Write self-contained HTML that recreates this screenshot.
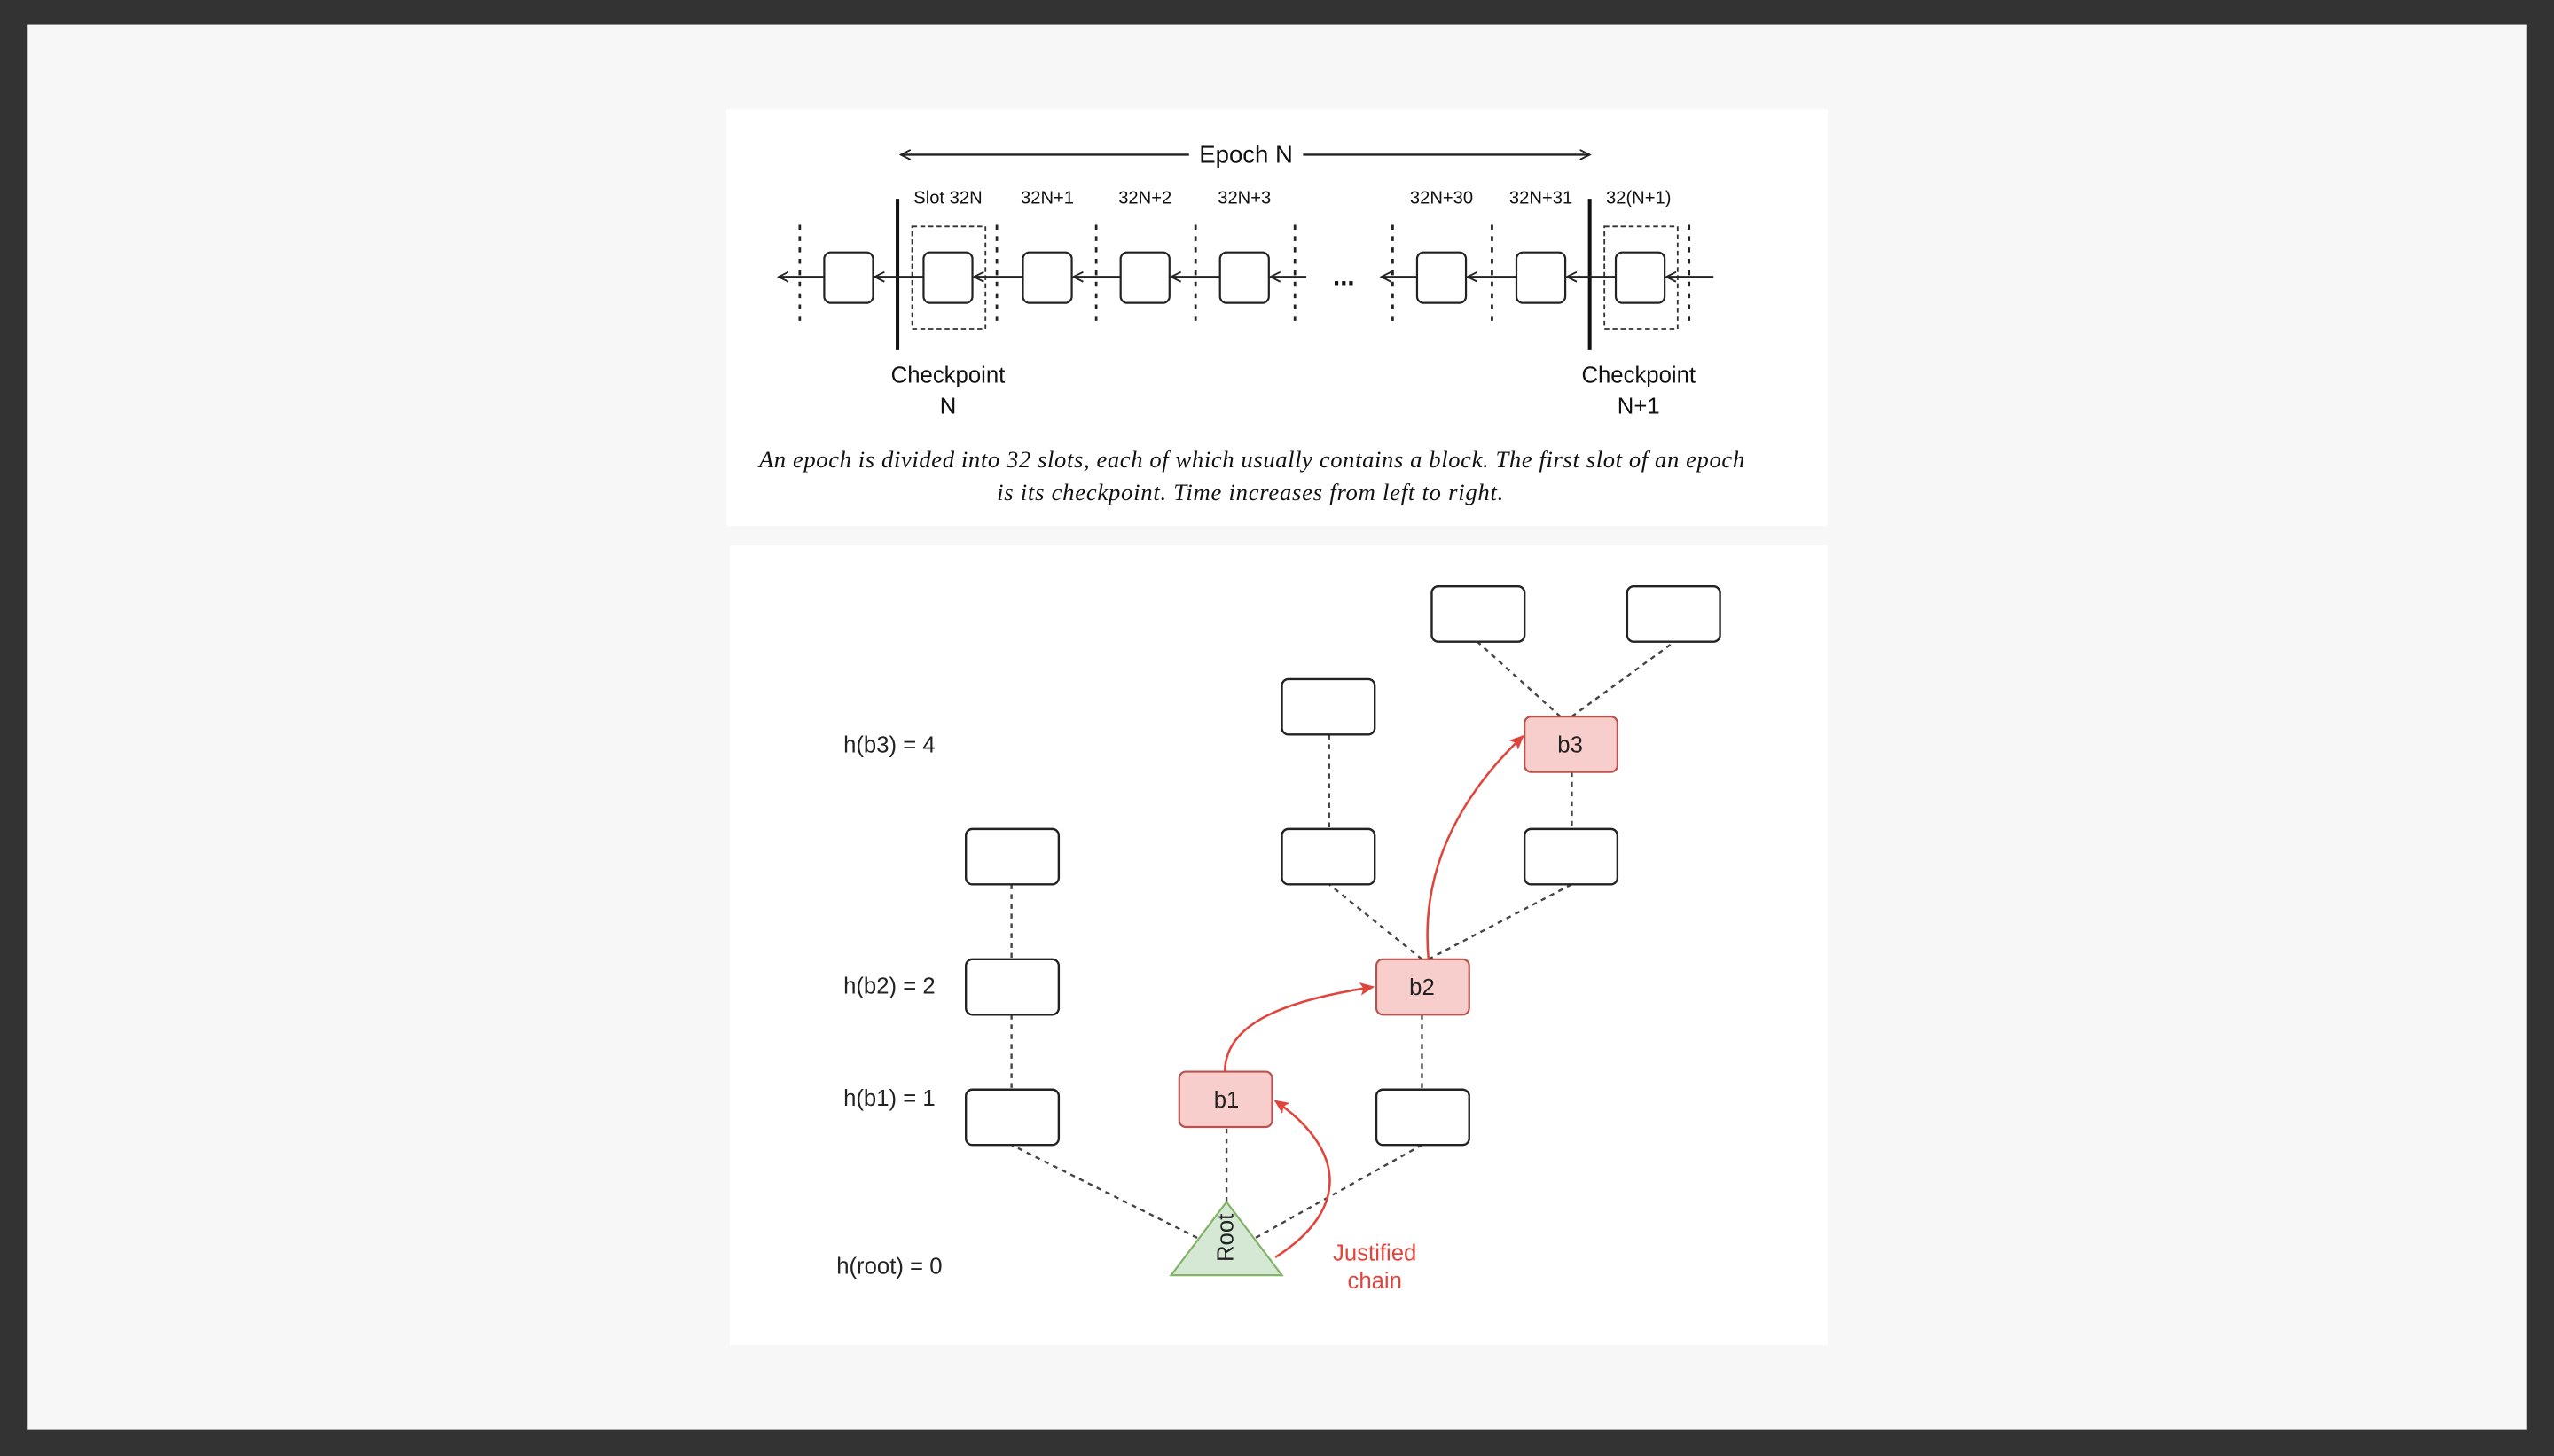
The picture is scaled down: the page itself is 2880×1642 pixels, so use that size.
<!DOCTYPE html>
<html><head><meta charset="utf-8"><style>
html,body{margin:0;padding:0;background:#333;}
svg{display:block;}
</style></head><body>
<svg width="2880" height="1642" viewBox="0 0 1568 894" xmlns="http://www.w3.org/2000/svg">
<defs>
<marker id="al" markerWidth="8" markerHeight="8" refX="1" refY="4" orient="auto" markerUnits="userSpaceOnUse"><path d="M7,1 L1,4 L7,7" fill="none" stroke="#222" stroke-width="1"/></marker>
<marker id="ar" markerWidth="8" markerHeight="8" refX="7" refY="4" orient="auto" markerUnits="userSpaceOnUse"><path d="M1,1 L7,4 L1,7" fill="none" stroke="#222" stroke-width="1"/></marker>
<marker id="rd" markerWidth="10" markerHeight="10" refX="8" refY="5" orient="auto" markerUnits="userSpaceOnUse"><path d="M0,1 L9,5 L0,9 L2,5 Z" fill="#e0453c"/></marker>
</defs>
<rect x="0" y="0" width="1568" height="894" fill="#333"/>
<rect x="17" y="15" width="1534" height="863" fill="#f7f7f7"/>
<rect x="446" y="67" width="676" height="256" fill="#fff"/>
<rect x="448" y="335" width="674" height="491" fill="#fff"/>

<g font-family="Liberation Sans, sans-serif" fill="#111">
<line x1="553" y1="95" x2="730" y2="95" stroke="#222" stroke-width="1.3" marker-start="url(#al)"/>
<line x1="800" y1="95" x2="976" y2="95" stroke="#222" stroke-width="1.3" marker-end="url(#ar)"/>
<text x="765" y="100" font-size="15" text-anchor="middle">Epoch N</text>
<g font-size="11" text-anchor="middle">
<text x="582" y="125">Slot 32N</text><text x="643" y="125">32N+1</text><text x="703" y="125">32N+2</text><text x="764" y="125">32N+3</text>
<text x="885" y="125">32N+30</text><text x="946" y="125">32N+31</text><text x="1006" y="125">32(N+1)</text>
</g>
<g stroke="#222" stroke-width="1.5" stroke-dasharray="3,4">
<line x1="491" y1="138" x2="491" y2="200"/><line x1="612" y1="138" x2="612" y2="200"/><line x1="673" y1="138" x2="673" y2="200"/><line x1="734" y1="138" x2="734" y2="200"/><line x1="795" y1="138" x2="795" y2="200"/><line x1="855" y1="138" x2="855" y2="200"/><line x1="916" y1="138" x2="916" y2="200"/><line x1="1037" y1="138" x2="1037" y2="200"/>
</g>
<g stroke="#333" stroke-width="1" fill="none" stroke-dasharray="3,2">
<rect x="560" y="139" width="45" height="63"/><rect x="985" y="139" width="45" height="63"/>
</g>
<line x1="551" y1="122" x2="551" y2="215" stroke="#111" stroke-width="2.2"/>
<line x1="976" y1="122" x2="976" y2="215" stroke="#111" stroke-width="2.2"/>
<g stroke="#222" stroke-width="1.2" fill="#fff">
<rect x="506" y="155" width="30" height="31" rx="4"/><rect x="567" y="155" width="30" height="31" rx="4"/><rect x="628" y="155" width="30" height="31" rx="4"/><rect x="688" y="155" width="30" height="31" rx="4"/><rect x="749" y="155" width="30" height="31" rx="4"/><rect x="870" y="155" width="30" height="31" rx="4"/><rect x="931" y="155" width="30" height="31" rx="4"/><rect x="992" y="155" width="30" height="31" rx="4"/>
</g>
<g stroke="#222" stroke-width="1.2" marker-end="url(#ar)">
<line x1="506" y1="170" x2="478" y2="170"/><line x1="567" y1="170" x2="537" y2="170"/><line x1="628" y1="170" x2="598" y2="170"/><line x1="688" y1="170" x2="659" y2="170"/><line x1="749" y1="170" x2="719" y2="170"/><line x1="802" y1="170" x2="780" y2="170"/><line x1="870" y1="170" x2="848" y2="170"/><line x1="931" y1="170" x2="901" y2="170"/><line x1="992" y1="170" x2="962" y2="170"/><line x1="1052" y1="170" x2="1023" y2="170"/>
</g>
<text x="825" y="175" font-size="16" text-anchor="middle" font-weight="bold">...</text>
<g font-size="14" text-anchor="middle">
<text x="582" y="235">Checkpoint</text><text x="582" y="254">N</text>
<text x="1006" y="235">Checkpoint</text><text x="1006" y="254">N+1</text>
</g>
<g font-family="Liberation Serif, serif" font-style="italic" font-size="14.5">
<text x="466" y="287" textLength="605" lengthAdjust="spacing">An epoch is divided into 32 slots, each of which usually contains a block. The first slot of an epoch</text>
<text x="612" y="307" textLength="311" lengthAdjust="spacing">is its checkpoint. Time increases from left to right.</text>
</g>
</g>

<g stroke="#444" stroke-width="1.3" stroke-dasharray="3,3" fill="none">
<line x1="753" y1="738" x2="753" y2="692"/>
<line x1="735" y1="760" x2="621" y2="703"/>
<line x1="771" y1="760" x2="873" y2="703"/>
<line x1="621" y1="543" x2="621" y2="589"/><line x1="621" y1="623" x2="621" y2="669"/>
<line x1="873" y1="623" x2="873" y2="669"/>
<line x1="873" y1="589" x2="816" y2="543"/><line x1="877" y1="589" x2="965" y2="543"/>
<line x1="816" y1="451" x2="816" y2="509"/>
<line x1="965" y1="474" x2="965" y2="509"/>
<line x1="958" y1="440" x2="907" y2="394"/><line x1="965" y1="440" x2="1028" y2="394"/>
</g>
<g stroke="#222" stroke-width="1.3" fill="#fff">
<rect x="593" y="509" width="57" height="34" rx="4"/><rect x="593" y="589" width="57" height="34" rx="4"/><rect x="593" y="669" width="57" height="34" rx="4"/>
<rect x="787" y="417" width="57" height="34" rx="4"/><rect x="787" y="509" width="57" height="34" rx="4"/>
<rect x="845" y="669" width="57" height="34" rx="4"/>
<rect x="936" y="509" width="57" height="34" rx="4"/>
<rect x="879" y="360" width="57" height="34" rx="4"/><rect x="999" y="360" width="57" height="34" rx="4"/>
</g>
<g stroke="#b85450" stroke-width="1.2" fill="#f8cecc">
<rect x="724" y="658" width="57" height="34" rx="4"/><rect x="845" y="589" width="57" height="34" rx="4"/><rect x="936" y="440" width="57" height="34" rx="4"/>
</g>
<polygon points="753,738 719,783 787,783" fill="#d5e8d4" stroke="#82b366" stroke-width="1.2"/>
<g fill="none" stroke="#e0453c" stroke-width="1.4">
<path d="M752,658 C752,628 790,614 843,606" marker-end="url(#rd)"/>
<path d="M783,772 C830,742 825,705 783,676" marker-end="url(#rd)"/>
<path d="M877,589 C872,535 895,490 935,452" marker-end="url(#rd)"/>
</g>
<g font-family="Liberation Sans, sans-serif" font-size="14" fill="#222" text-anchor="middle">
<text x="753" y="680">b1</text><text x="873" y="611">b2</text><text x="964" y="462">b3</text>
<text transform="translate(757,760) rotate(-90)" text-anchor="middle">Root</text>
<text x="546" y="462">h(b3) = 4</text><text x="546" y="610">h(b2) = 2</text><text x="546" y="679">h(b1) = 1</text><text x="546" y="782">h(root) = 0</text>
<text x="844" y="774" fill="#e0453c">Justified</text><text x="844" y="791" fill="#e0453c">chain</text>
</g>
</svg>
</body></html>
